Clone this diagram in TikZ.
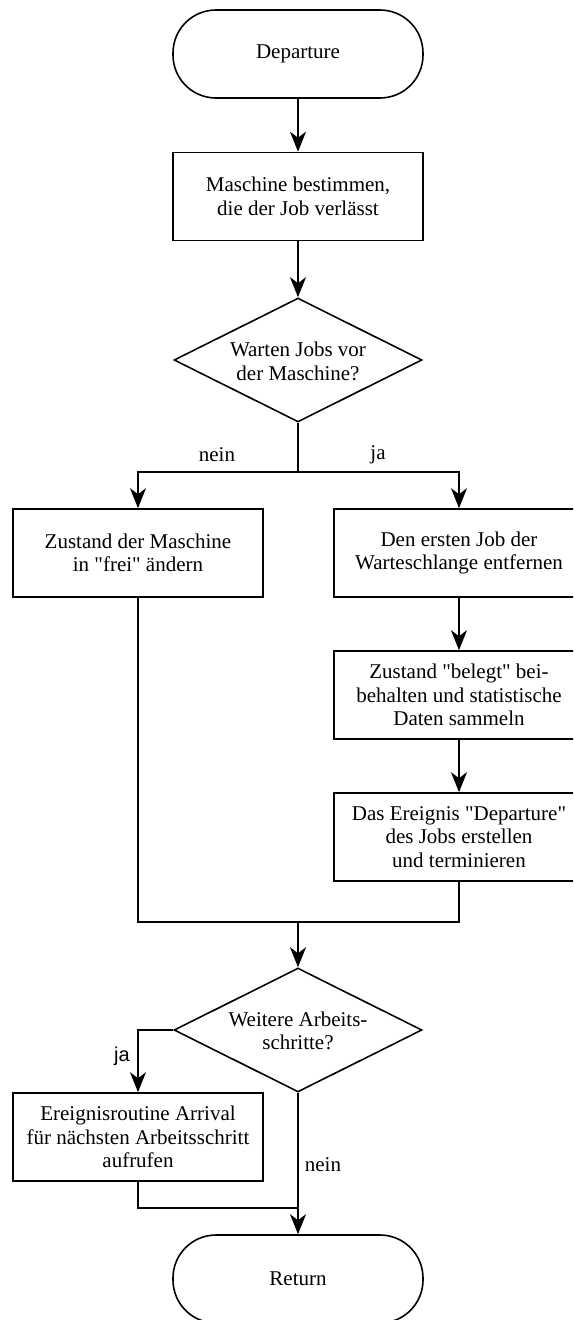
\documentclass[tikz,border=0pt]{standalone}
\usepackage{fontspec}
% no TeX input mapping, so " stays a straight double quote
\setmainfont{Liberation Serif}[Ligatures=TeXOff]
\newfontfamily\labelsans{Liberation Sans}
\usetikzlibrary{arrows.meta,shapes.geometric}

\begin{document}
\begin{tikzpicture}[x=1pt,y=-1pt,
  every node/.style={font=\fontsize{21pt}{23.5pt}\selectfont},
  lw/.style={line width=1.6pt},
  terminal/.style={lw,draw,rectangle,rounded corners=43pt,minimum width=250pt,minimum height=88pt,inner sep=0pt,align=center},
  procbox/.style={lw,draw,rectangle,minimum width=250pt,minimum height=88pt,inner sep=0pt,align=center},
  decision/.style={lw,draw,diamond,minimum width=248pt,minimum height=124pt,inner sep=0pt},
  dtext/.style={align=center,inner sep=0pt},
  flow/.style={lw,-{Stealth[length=20pt,width=16pt,inset=6pt]}},
  link/.style={lw},
  lbl/.style={inner sep=0pt},
  sanslbl/.style={inner sep=0pt,font=\labelsans\fontsize{20pt}{22pt}\selectfont}]

\clip (0,0) rectangle (573,1320);
\fill[white] (0,0) rectangle (573,1320);

% main column
\node[terminal] (dep) at (298,54) {Departure};
\node[procbox] (m1) at (298,196.5) {Maschine bestimmen,\\die der Job verlässt};
\node[decision] (d1) at (298,360) {};
\node[dtext] (d1t) at (298,361.5) {Warten Jobs vor\\der Maschine?};

% branches
\node[procbox] (l1) at (138,553) {Zustand der Maschine\\in "frei" ändern};
\node[procbox] (r1) at (459,553) {Den ersten Job der\\Warteschlange entfernen};
\node[procbox] (r2) at (459,695) {Zustand "belegt" bei-\\behalten und statistische\\Daten sammeln};
\node[procbox] (r3) at (459,837) {Das Ereignis "Departure"\\des Jobs erstellen\\und terminieren};

% second decision
\node[decision] (d2) at (298,1030) {};
\node[dtext] (d2t) at (298,1031) {Weitere Arbeits-\\schritte?};
\node[procbox] (l2) at (138,1137) {Ereignisroutine Arrival\\für nächsten Arbeitsschritt\\aufrufen};
\node[terminal] (ret) at (298,1279) {Return};

% junction points
\coordinate (split) at (298,472);
\coordinate (join) at (298,922);
\coordinate (join2) at (298,1208);

% connectors
\draw[flow] (dep) -- (m1);
\draw[flow] (m1) -- (d1);
\draw[link] (d1.south) -- (split);
\draw[flow] (split) -| (l1.north);
\draw[flow] (split) -| (r1.north);
\draw[flow] (r1) -- (r2);
\draw[flow] (r2) -- (r3);
\draw[link] (l1.south) |- (join);
\draw[link] (r3.south) |- (join);
\draw[flow] (join) -- (d2.north);
\draw[flow] (d2.west) -| (l2.north);
\draw[flow] (d2.south) -- (ret.north);
\draw[link] (l2.south) |- (join2);

% branch labels
\node[lbl] (nein1) at (217,455) {nein};
\node[lbl] (ja1) at (378,455) {ja};
\node[sanslbl] (ja2) at (122,1056) {ja};
\node[lbl] (nein2) at (323,1165) {nein};
\end{tikzpicture}
\end{document}
